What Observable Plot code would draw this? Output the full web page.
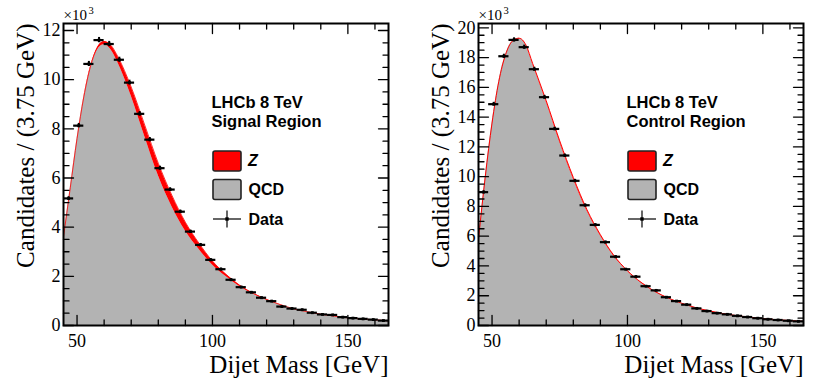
<!DOCTYPE html>
<html>
<head>
<meta charset="utf-8">
<script src="https://cdn.jsdelivr.net/npm/d3@7"></script>
<script src="https://cdn.jsdelivr.net/npm/@observablehq/plot@0.6"></script>
<style>
  html, body { margin: 0; padding: 0; background: #fff; }
  #wrap { display: flex; width: 830px; height: 390px; }
  svg { display: block; }
</style>
</head>
<body>
<div id="wrap"></div>
<script>
// ---- Data (values in units of 10^3 candidates per 3.75 GeV) ----
const binCenters = [46.875, 50.625, 54.375, 58.125, 61.875, 65.625, 69.375, 73.125,
  76.875, 80.625, 84.375, 88.125, 91.875, 95.625, 99.375, 103.125, 106.875, 110.625,
  114.375, 118.125, 121.875, 125.625, 129.375, 133.125, 136.875, 140.625, 144.375,
  148.125, 151.875, 155.625, 159.375, 163.125];
const binWidth = 3.75;

const signalData = [5.17, 8.13, 10.64, 11.61, 11.45, 10.81, 9.88, 8.61, 7.56, 6.40, 5.53,
  4.63, 3.82, 3.28, 2.67, 2.29, 1.86, 1.56, 1.35, 1.13, 0.99, 0.77, 0.69, 0.64, 0.52,
  0.45, 0.43, 0.34, 0.30, 0.27, 0.24, 0.20];
const controlData = [8.96, 14.87, 18.09, 19.19, 18.70, 17.22, 15.34, 13.21, 11.42, 9.72,
  8.08, 6.76, 5.60, 4.62, 3.78, 3.28, 2.64, 2.36, 1.90, 1.64, 1.40, 1.15, 0.97, 0.83,
  0.75, 0.65, 0.57, 0.49, 0.42, 0.37, 0.32, 0.28];

// fit model (total = QCD + Z)
const modelX = [45, 47.5, 50, 52.5, 55, 57.5, 60, 62.5, 65, 70, 75, 80, 85, 90, 95, 100,
  105, 110, 115, 120, 125, 130, 135, 140, 145, 150, 155, 160, 165];
const signalTotal = [3.6, 5.6, 7.6, 9.3, 10.55, 11.3, 11.55, 11.4, 10.95, 9.7, 8.15, 6.6,
  5.3, 4.2, 3.35, 2.62, 2.08, 1.64, 1.31, 1.06, 0.85, 0.68, 0.56, 0.46, 0.38, 0.31, 0.27,
  0.23, 0.19];
const signalZ = [0, 0.01, 0.02, 0.04, 0.06, 0.09, 0.13, 0.18, 0.24, 0.36, 0.46, 0.5, 0.46,
  0.36, 0.25, 0.16, 0.09, 0.05, 0.03, 0.02, 0.01, 0, 0, 0, 0, 0, 0, 0, 0];
const controlTotal = [5.8, 10.0, 13.6, 16.4, 18.2, 19.1, 19.3, 18.85, 17.6, 15.1, 12.4,
  9.95, 7.8, 6.1, 4.7, 3.68, 2.9, 2.3, 1.85, 1.5, 1.21, 0.99, 0.81, 0.67, 0.56, 0.46,
  0.39, 0.33, 0.28];
const controlZ = [0, 0, 0, 0, 0, 0.01, 0.02, 0.03, 0.05, 0.08, 0.1, 0.1, 0.09, 0.07,
  0.05, 0.03, 0.02, 0.01, 0, 0, 0, 0, 0, 0, 0, 0, 0, 0, 0];

const xTicks = [50, 100, 150];
const xMinorTicks = [60, 70, 80, 90, 110, 120, 130, 140, 160];
const signalYTicks = [0, 2, 4, 6, 8, 10, 12];
const controlYTicks = [0, 2, 4, 6, 8, 10, 12, 14, 16, 18, 20];

const legendLabels = ["Z", "QCD", "Data"];
const xTitle = "Dijet Mass [GeV]";
const yTitle = "Candidates / (3.75 GeV)";
const multiplierBase = "×10";
const multiplierExp = "3";

// ---- styling ----
const SERIF = "'Liberation Serif', 'Times New Roman', Times, serif";
const SANS = "'Liberation Sans', Arial, Helvetica, sans-serif";
const W = 415, H = 390;
const M = {left: 63, right: 27, top: 23, bottom: 65};
const X0 = 45, X1 = 165;

const tickShape = {draw(ctx, l) { ctx.moveTo(0, 0); ctx.lineTo(0, -l); }};

function panel({data, total, zpart, yMax, yTicks, regionLabel, lineWidth}) {
  const model = modelX.map((x, i) => ({x, total: total[i], qcd: total[i] - zpart[i]}));
  const pts = binCenters.map((c, i) => {
    const v = data[i];
    const e = Math.sqrt(v * 1000) / 1000;
    return {c, lo: c - binWidth / 2, hi: c + binWidth / 2, v, e};
  });
  const yMinor = d3.range(0, yMax, 0.5).filter(v => !yTicks.includes(v));
  const tk = (arr, fx, fy, len, rot) => Plot.vector(arr, {
    x: fx, y: fy, length: len, rotate: rot, anchor: "start", shape: tickShape,
    stroke: "black", strokeWidth: 1.3
  });

  const svg = Plot.plot({
    width: W, height: H,
    marginLeft: M.left, marginRight: M.right, marginTop: M.top, marginBottom: M.bottom,
    style: {fontFamily: SERIF, background: "white", overflow: "visible"},
    x: {domain: [X0, X1]},
    y: {domain: [0, yMax]},
    marks: [
      Plot.areaY(model, {x: "x", y: "qcd", fill: "#b3b3b3", curve: "monotone-x"}),
      Plot.areaY(model, {x: "x", y1: "qcd", y2: "total", fill: "#ff0000", curve: "monotone-x"}),
      Plot.line(model, {x: "x", y: "total", stroke: "#ff0000", strokeWidth: lineWidth, curve: "monotone-x"}),
      // data points
      Plot.ruleY(pts, {x1: "lo", x2: "hi", y: "v", stroke: "black", strokeWidth: 2.2}),
      Plot.ruleX(pts, {x: "c", y1: d => d.v - d.e, y2: d => d.v + d.e, stroke: "black", strokeWidth: 2}),
      Plot.dot(pts, {x: "c", y: "v", symbol: "square", r: 1.6, fill: "black"}),
      // ticks (inside, on all four sides)
      tk(yTicks, () => X0, d => d, 10, 90),
      tk(yMinor, () => X0, d => d, 5.5, 90),
      tk(yTicks, () => X1, d => d, 10, 270),
      tk(yMinor, () => X1, d => d, 5.5, 270),
      tk(xTicks, d => d, () => 0, 10, 0),
      tk(xMinorTicks, d => d, () => 0, 5.5, 0),
      tk(xTicks, d => d, () => yMax, 10, 180),
      tk(xMinorTicks, d => d, () => yMax, 5.5, 180),
      Plot.frame({stroke: "black", strokeWidth: 2}),
      // axis labels
      Plot.axisY(yTicks, {tickSize: 0, tickPadding: 3, fontSize: 18, label: null, fill: "black"}),
      Plot.axisX(xTicks, {tickSize: 0, tickPadding: 9, fontSize: 18, label: null, fill: "black"}),
      Plot.text([xTitle], {frameAnchor: "bottom-right", text: d => d, textAnchor: "end", lineAnchor: "bottom",
        dy: 47, fontSize: 25, fill: "black"}),
      Plot.text([yTitle], {frameAnchor: "top-left", text: d => d, textAnchor: "end", lineAnchor: "bottom",
        rotate: -90, dx: -30, dy: 0, fontSize: 25, fill: "black"}),
      Plot.text([multiplierBase], {frameAnchor: "top-left", text: d => d, textAnchor: "start", lineAnchor: "bottom",
        dx: 0, dy: -3.5, fontSize: 15, fill: "black"}),
      Plot.text([multiplierExp], {frameAnchor: "top-left", text: d => d, textAnchor: "start", lineAnchor: "bottom",
        dx: 25, dy: -9.5, fontSize: 10.5, fill: "black"})
    ]
  });

  const s = d3.select(svg);
  // force serif on all plot texts (axes, titles)
  s.selectAll("g[aria-label], text").attr("font-family", SERIF);

  // legend (drawn in pixel space on the plot's svg)
  const g = s.append("g").attr("font-family", SANS).attr("font-weight", "bold")
    .attr("fill", "black").attr("text-anchor", "start");
  g.append("text").attr("x", 211.5).attr("y", 107.5).attr("font-size", 16.5).text("LHCb 8 TeV");
  g.append("text").attr("x", 211.5).attr("y", 126.5).attr("font-size", 16.5).text(regionLabel);
  g.append("rect").attr("x", 213).attr("y", 151).attr("width", 28).attr("height", 20).attr("rx", 2)
    .attr("fill", "#ff0000").attr("stroke", "#222").attr("stroke-width", 1.6);
  g.append("rect").attr("x", 213).attr("y", 179.5).attr("width", 28).attr("height", 20).attr("rx", 2)
    .attr("fill", "#b3b3b3").attr("stroke", "#222").attr("stroke-width", 1.6);
  g.append("line").attr("x1", 213).attr("x2", 241).attr("y1", 219).attr("y2", 219).attr("stroke", "black").attr("stroke-width", 1.2);
  g.append("line").attr("x1", 227).attr("x2", 227).attr("y1", 210.5).attr("y2", 227.5).attr("stroke", "black").attr("stroke-width", 1.2);
  g.append("rect").attr("x", 225.3).attr("y", 217.3).attr("width", 3.4).attr("height", 3.4).attr("fill", "black");
  g.append("text").attr("x", 248).attr("y", 165.5).attr("font-size", 16).attr("font-style", "italic").text(legendLabels[0]);
  g.append("text").attr("x", 248.5).attr("y", 195).attr("font-size", 16).text(legendLabels[1]);
  g.append("text").attr("x", 248.5).attr("y", 224.5).attr("font-size", 16).text(legendLabels[2]);
  return svg;
}

const wrap = document.getElementById("wrap");
wrap.appendChild(panel({data: signalData, total: signalTotal, zpart: signalZ, yMax: 12.285,
  yTicks: signalYTicks, regionLabel: "Signal Region", lineWidth: 0.8}));
wrap.appendChild(panel({data: controlData, total: controlTotal, zpart: controlZ, yMax: 20.29,
  yTicks: controlYTicks, regionLabel: "Control Region", lineWidth: 1}));
</script>
</body>
</html>
